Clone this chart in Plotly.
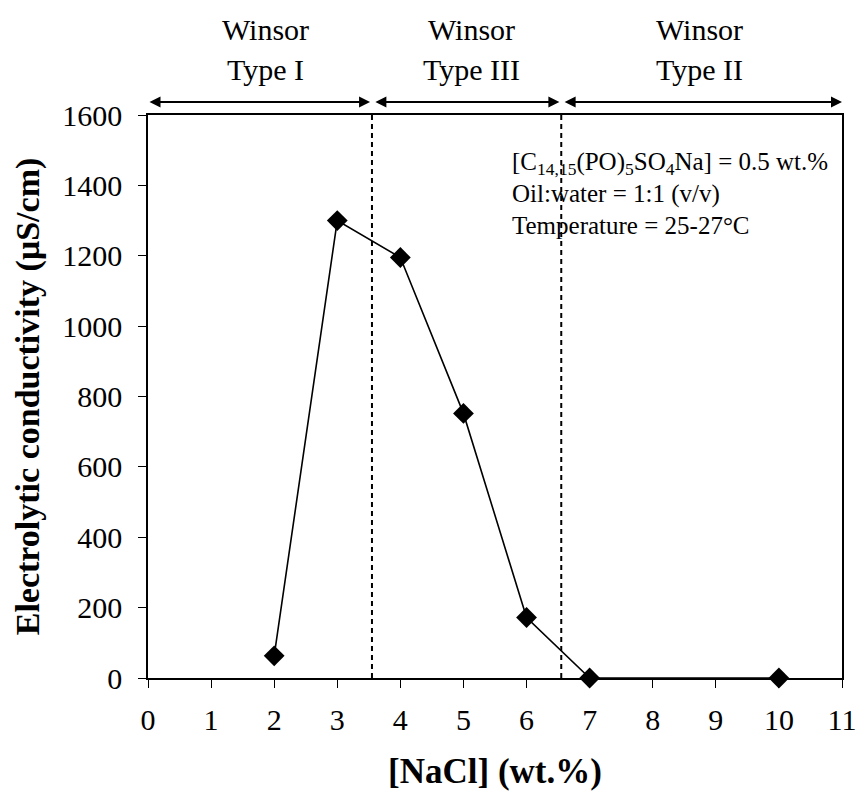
import plotly.graph_objects as go

nacl = [2, 3, 4, 5, 6, 7, 10]
conductivity = [63, 1300, 1195, 752, 172, 0, 0]
x_ticks = [0, 1, 2, 3, 4, 5, 6, 7, 8, 9, 10, 11]
y_ticks = [0, 200, 400, 600, 800, 1000, 1200, 1400, 1600]
boundaries = [3.55, 6.55]
region_labels = ["Type I", "Type III", "Type II"]
region_centers = [1.87, 5.12, 8.74]
info_lines = [
    "[C<sub>14,15</sub>(PO)<sub>5</sub>SO<sub>4</sub>Na] = 0.5 wt.%",
    "Oil:water = 1:1 (v/v)",
    "Temperature = 25-27°C",
]
info_y = [1463, 1375, 1287]

FONT = "Liberation Serif, Times New Roman, serif"

fig = go.Figure()
fig.add_trace(go.Scatter(
    x=nacl, y=conductivity, mode="lines+markers",
    line=dict(color="black", width=1.6),
    marker=dict(symbol="diamond", size=16, color="black"),
    showlegend=False, cliponaxis=False,
))

for b in boundaries:
    fig.add_shape(type="line", xref="x", yref="y", x0=b, x1=b, y0=0, y1=1600,
                  line=dict(color="black", width=2, dash="5px,4px"))

# double-headed arrows above the plot
edges = [0] + boundaries + [11]
gap = 0.03
for i in range(3):
    a = edges[i] + (gap if i > 0 else 0)
    c = edges[i + 1] - (gap if i < 2 else 0)
    fig.add_annotation(x=c, y=1.023, xref="x", yref="paper",
                       ax=a, ay=0, axref="x", ayref="pixel",
                       text="", showarrow=True, arrowhead=2, arrowsize=1.1,
                       arrowwidth=2, arrowcolor="black", arrowside="end+start",
                       standoff=0, startstandoff=0)
    fig.add_annotation(x=region_centers[i], y=1.080, xref="x", yref="paper",
                       text=region_labels[i], showarrow=False,
                       font=dict(family=FONT, size=30, color="black"),
                       yanchor="middle")
    fig.add_annotation(x=region_centers[i], y=1.151, xref="x", yref="paper",
                       text="Winsor", showarrow=False,
                       font=dict(family=FONT, size=30, color="black"),
                       yanchor="middle")

for t, yy in zip(info_lines, info_y):
    fig.add_annotation(x=5.73, y=yy, xref="x", yref="y",
                       text=t, showarrow=False, xanchor="left", yanchor="middle",
                       font=dict(family=FONT, size=25, color="black"))

fig.update_layout(
    width=868, height=799,
    margin=dict(l=148, r=16, t=115, b=121),
    paper_bgcolor="white", plot_bgcolor="white",
    font=dict(family=FONT, color="black"),
)
fig.update_xaxes(
    range=[0, 11], tickvals=x_ticks, ticktext=[str(v) for v in x_ticks],
    showgrid=False, zeroline=False, showline=True, linecolor="black", linewidth=1.5,
    mirror=True, ticks="outside", ticklen=8, tickcolor="black",
    ticklabelstandoff=6,
    tickfont=dict(family=FONT, size=30, color="black"),
    title=dict(text="<b>[NaCl] (wt.%)</b>", font=dict(family=FONT, size=35, color="black"), standoff=24),
)
fig.update_yaxes(
    range=[0, 1600], tickvals=y_ticks,
    showgrid=False, zeroline=False, showline=True, linecolor="black", linewidth=1.5,
    mirror=True, ticks="outside", ticklen=8, tickcolor="black",
    ticklabelstandoff=10,
    tickfont=dict(family=FONT, size=30, color="black"),
    title=dict(text="<b>Electrolytic conductivity (μS/cm)</b>", font=dict(family=FONT, size=34, color="black"), standoff=12),
)

fig.write_html("out.html")
